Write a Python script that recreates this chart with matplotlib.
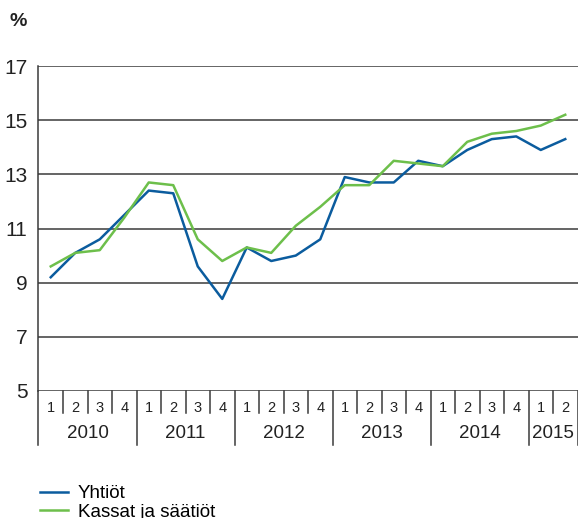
import matplotlib
matplotlib.use("Agg")
import matplotlib.pyplot as plt
import matplotlib.transforms as mtransforms
from matplotlib.lines import Line2D

plt.rcParams["font.family"] = ["Liberation Sans", "DejaVu Sans"]

# ---- Data: quarterly values, 2010Q1 .. 2015Q2 (%) ----
years = ["2010", "2011", "2012", "2013", "2014", "2015"]
quarters_per_year = [4, 4, 4, 4, 4, 2]

yhtiot = [9.2, 10.1, 10.6, 11.5,
          12.4, 12.3, 9.6, 8.4,
          10.3, 9.8, 10.0, 10.6,
          12.9, 12.7, 12.7, 13.5,
          13.3, 13.9, 14.3, 14.4,
          13.9, 14.3]

kassat = [9.6, 10.1, 10.2, 11.4,
          12.7, 12.6, 10.6, 9.8,
          10.3, 10.1, 11.1, 11.8,
          12.6, 12.6, 13.5, 13.4,
          13.3, 14.2, 14.5, 14.6,
          14.8, 15.2]

y_ticks = [5, 7, 9, 11, 13, 15, 17]

BLUE = "#0b5c9e"
GREEN = "#6dbf4b"
GRID = "#3a3a3a"

fig = plt.figure(figsize=(5.78, 5.18), dpi=100)
ax = fig.add_axes([38.5 / 578, 1 - 391 / 518, 539 / 578, 325 / 518])

x = list(range(len(yhtiot)))
ax.plot(x, yhtiot, color=BLUE, lw=1.8, zorder=3)
ax.plot(x, kassat, color=GREEN, lw=1.8, zorder=3)

ax.set_xlim(-0.5, len(x) - 0.5)
ax.set_ylim(5, 17)
ax.set_yticks(y_ticks)
ax.set_yticklabels([str(v) for v in y_ticks], fontsize=15, color="#222222")
ax.tick_params(axis="y", length=0, pad=8)
ax.set_xticks([])
for v in y_ticks:
    ax.axhline(v, color=GRID, lw=1.1, zorder=1)

for side in ("top", "right", "bottom"):
    ax.spines[side].set_visible(False)
ax.spines["left"].set_color(GRID)
ax.spines["left"].set_linewidth(1.1)

# ---- Two-row category axis: quarters and years ----
trans = mtransforms.blended_transform_factory(ax.transData, ax.transAxes)
q_bottom = -22 / 325
y_bottom = -54 / 325

i = 0
for year, nq in zip(years, quarters_per_year):
    ax.plot([i - 0.5, i - 0.5], [0, y_bottom], transform=trans,
            color=GRID, lw=1.1, clip_on=False)
    for q in range(nq):
        if q > 0:
            ax.plot([i + q - 0.5, i + q - 0.5], [0, q_bottom], transform=trans,
                    color=GRID, lw=1.1, clip_on=False)
        ax.text(i + q, -17 / 325, str(q + 1), transform=trans,
                ha="center", va="center", fontsize=10.5, color="#222222")
    ax.text(i + (nq - 1) / 2, -42 / 325, year, transform=trans,
            ha="center", va="center", fontsize=13.5, color="#222222")
    i += nq
ax.plot([i - 0.5, i - 0.5], [0, y_bottom], transform=trans,
        color=GRID, lw=1.1, clip_on=False)

fig.text(10 / 578, 1 - 21 / 518, "%", fontsize=14, fontweight="bold",
         ha="left", va="center", color="#222222")

handles = [Line2D([], [], color=BLUE, lw=1.8),
           Line2D([], [], color=GREEN, lw=1.8)]
fig.legend(handles, ["Yhtiöt", "Kassat ja säätiöt"],
           loc="upper left", bbox_to_anchor=(31 / 578, 1 - 476 / 518),
           frameon=False, fontsize=13.5, handlelength=1.45,
           handletextpad=0.55, labelspacing=0.05, borderpad=0)

fig.savefig("out.png", dpi=100)
